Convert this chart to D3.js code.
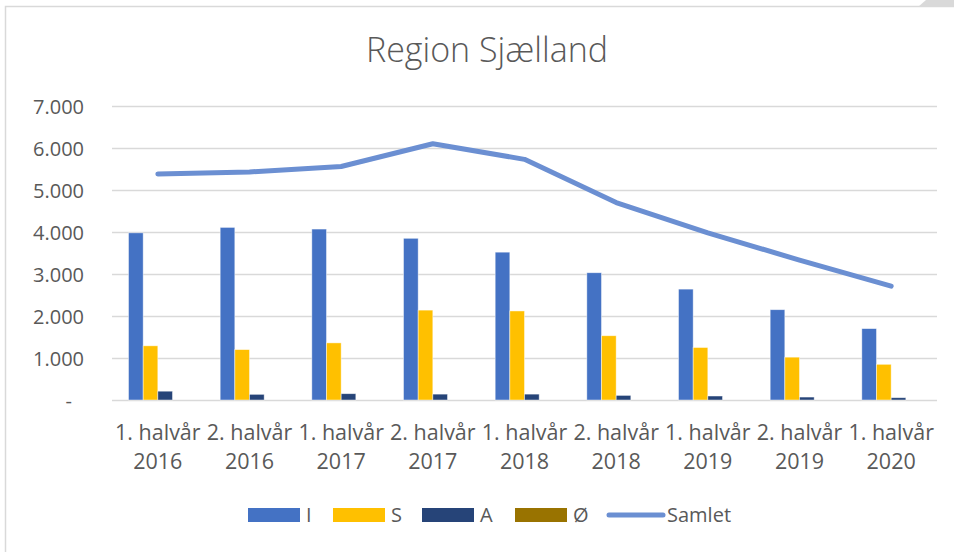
<!DOCTYPE html>
<html>
<head>
<meta charset="utf-8">
<script src="https://cdn.jsdelivr.net/npm/d3@7"></script>
<style>
  html, body { margin: 0; padding: 0; background: #fff; }
  svg { display: block; font-family: "Open Sans", "Noto Sans", sans-serif; }
</style>
</head>
<body>
<div class="chart"></div>
<script>
// categories (half years)
const categories = [
  "1. halvår 2016", "2. halvår 2016", "1. halvår 2017", "2. halvår 2017",
  "1. halvår 2018", "2. halvår 2018", "1. halvår 2019", "2. halvår 2019",
  "1. halvår 2020"
];

// series
const seriesI = [3980, 4110, 4070, 3850, 3520, 3030, 2640, 2150, 1700];
const seriesS = [1290, 1200, 1360, 2140, 2120, 1530, 1250, 1020, 850];
const seriesA = [210, 135, 150, 140, 140, 110, 95, 70, 55];
const seriesO = [0, 0, 0, 0, 0, 0, 0, 0, 0];
const samlet = [5380, 5430, 5560, 6100, 5730, 4700, 3980, 3330, 2710];

const barNames = ["I", "S", "A", "Ø"];
const yTicks = [0, 1000, 2000, 3000, 4000, 5000, 6000, 7000];

const colors = { I: "#4472C4", S: "#FFC000", A: "#264478", "Ø": "#997300" };
const lineColor = "#6B8FD2";
const textColor = "#595959";
const gridColor = "#D9D9D9";

const width = 954;
const height = 552;
const margin = { top: 106, right: 17, bottom: 152, left: 112 };

const svg = d3
  .select(".chart")
  .append("svg")
  .attr("width", width)
  .attr("height", height);

// chart frame and the little corner piece at the top right
svg.append("rect")
  .attr("x", 5.5).attr("y", 6.5)
  .attr("width", 1100).attr("height", 700)
  .attr("fill", "#fff")
  .attr("stroke", gridColor)
  .attr("stroke-width", 1.5);

svg.append("path")
  .attr("d", "M918,7 L926,0 L954,0 L954,7 Z")
  .attr("fill", "#D9D9D9");

// title
svg.append("text")
  .attr("x", 487)
  .attr("y", 62)
  .attr("text-anchor", "middle")
  .attr("fill", textColor)
  .attr("font-size", 34)
  .attr("font-weight", 300)
  .text("Region Sjælland");

// scales
const x = d3.scaleBand()
  .domain(categories)
  .range([margin.left, width - margin.right])
  .paddingInner(0.36)
  .paddingOuter(0.18);

const x1 = d3.scaleBand()
  .domain(barNames)
  .range([0, x.bandwidth()]);

const y = d3.scaleLinear()
  .domain([0, 7000])
  .range([height - margin.bottom, margin.top]);

// y axis (grid + labels)
const fmt = (v) => (v === 0 ? "-" : d3.format(",")(v).replace(/,/g, "."));

const yAxis = svg.append("g")
  .attr("transform", "translate(" + margin.left + ",0)")
  .call(
    d3.axisLeft(y)
      .tickValues(yTicks)
      .tickSize(-(width - margin.left - margin.right))
      .tickFormat(fmt)
  );
yAxis.select(".domain").remove();
yAxis.selectAll(".tick line")
  .attr("stroke", gridColor)
  .attr("stroke-width", 1.5);
yAxis.selectAll(".tick text")
  .attr("fill", textColor)
  .attr("font-size", 20)
  .attr("font-family", "Open Sans, sans-serif")
  .attr("x", (d) => (d === 0 ? -40 : -28))
  .attr("dy", "0.35em");

// bars
const rows = categories.map((c, i) => ({
  cat: c,
  values: [
    { key: "I", value: seriesI[i] },
    { key: "S", value: seriesS[i] },
    { key: "A", value: seriesA[i] },
    { key: "Ø", value: seriesO[i] },
  ],
}));

svg.append("g")
  .selectAll("g")
  .data(rows)
  .join("g")
  .attr("transform", (d) => "translate(" + x(d.cat) + ",0)")
  .selectAll("rect")
  .data((d) => d.values)
  .join("rect")
  .attr("x", (d) => x1(d.key))
  .attr("y", (d) => y(d.value))
  .attr("width", x1.bandwidth())
  .attr("height", (d) => y(0) - y(d.value))
  .attr("fill", (d) => colors[d.key])
  .attr("stroke", (d) => (d.value > 0 ? "rgba(255,255,255,0.6)" : "none"))
  .attr("stroke-width", 0.75);

// Samlet line
const line = d3.line()
  .x((d, i) => x(categories[i]) + x.bandwidth() / 2)
  .y((d) => y(d));

svg.append("path")
  .datum(samlet)
  .attr("fill", "none")
  .attr("stroke", lineColor)
  .attr("stroke-width", 5)
  .attr("stroke-linecap", "round")
  .attr("stroke-linejoin", "round")
  .attr("d", line);

// x axis labels, two lines each
const xLabels = svg.append("g")
  .selectAll("text")
  .data(categories)
  .join("text")
  .attr("text-anchor", "middle")
  .attr("fill", textColor)
  .attr("font-size", 21.5)
  .attr("x", (d) => x(d) + x.bandwidth() / 2);

xLabels.append("tspan")
  .attr("x", (d) => x(d) + x.bandwidth() / 2)
  .attr("y", 440)
  .text((d) => d.slice(0, d.lastIndexOf(" ")));

xLabels.append("tspan")
  .attr("x", (d) => x(d) + x.bandwidth() / 2)
  .attr("y", 469)
  .text((d) => d.slice(d.lastIndexOf(" ") + 1));

// legend
const legendItems = [
  { name: "I", type: "bar", x: 248 },
  { name: "S", type: "bar", x: 333 },
  { name: "A", type: "bar", x: 422 },
  { name: "Ø", type: "bar", x: 515 },
  { name: "Samlet", type: "line", x: 607 },
];
const legendY = 515;

const legend = svg.append("g")
  .selectAll("g")
  .data(legendItems)
  .join("g")
  .attr("transform", (d) => "translate(" + d.x + "," + legendY + ")");

legend.filter((d) => d.type === "bar")
  .append("rect")
  .attr("x", 0)
  .attr("y", -7)
  .attr("width", 52)
  .attr("height", 14)
  .attr("fill", (d) => colors[d.name]);

legend.filter((d) => d.type === "line")
  .append("line")
  .attr("x1", 2)
  .attr("x2", 56)
  .attr("stroke", lineColor)
  .attr("stroke-width", 5)
  .attr("stroke-linecap", "round");

legend.append("text")
  .attr("x", (d) => (d.type === "line" ? 60 : 58))
  .attr("dy", "0.36em")
  .attr("fill", textColor)
  .attr("font-size", 20)
  .text((d) => d.name);
</script>
</body>
</html>
